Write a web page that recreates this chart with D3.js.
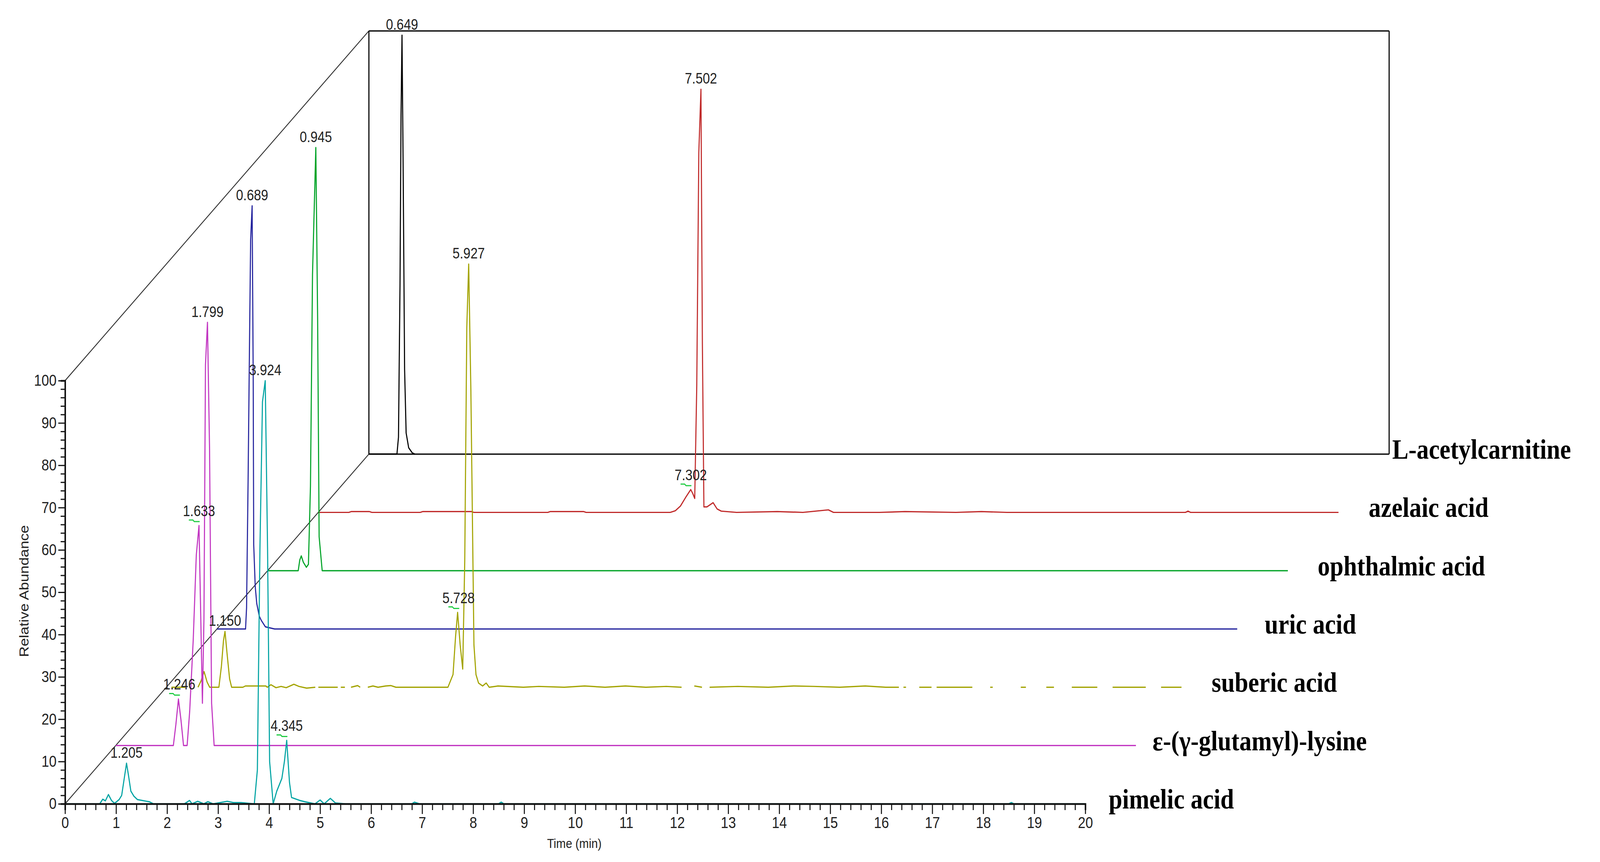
<!DOCTYPE html>
<html><head><meta charset="utf-8">
<script src="https://cdnjs.cloudflare.com/ajax/libs/d3/7.8.5/d3.min.js"></script>
<style>html,body{margin:0;background:#fff;overflow:hidden}svg{display:block}</style></head>
<body><svg id="c" viewBox="0 0 4722 2208" preserveAspectRatio="none" style="width:100vw;height:2208px"></svg>
<script>
// ---- data ----
const seriesNames = ["pimelic acid","ε-(γ-glutamyl)-lysine","suberic acid","uric acid","ophthalmic acid","azelaic acid","L-acetylcarnitine"];
const seriesColors = ["#00A3A3","#C236C2","#A3A300","#24249E","#00A326","#C02A2A","#000000"];
const xTicks = d3.range(0,21,1);
const yTicks = d3.range(0,101,10);

const pimelic = [[0,0],[0.68,0],[0.74,1.1],[0.79,0.7],[0.85,2.2],[0.91,0.8],[0.97,0.1],[1.06,1.0],[1.11,2.0],[1.16,6],[1.205,9.6],[1.24,7],[1.29,3],[1.35,1.8],[1.42,1],[1.6,0.6],[1.65,0.5],[1.73,0],[2.34,0],[2.44,0.8],[2.49,0],[2.6,0.6],[2.72,0],[2.8,0.5],[2.9,0],[3.18,0.6],[3.3,0.3],[3.45,0.3],[3.71,0],[3.77,8],[3.82,60],[3.87,95],[3.924,100],[3.97,60],[4.01,10],[4.08,0],[4.15,3],[4.25,6],[4.30,10],[4.345,15],[4.40,5],[4.44,1.5],[4.6,0.8],[4.7,0.5],[4.9,0],[5.0,0.9],[5.08,0],[5.2,1.3],[5.3,0.2],[5.5,0],[6.8,0],[6.85,0.4],[6.95,0],[8.5,0],[8.55,0.4],[8.6,0],[18.5,0],[18.55,0.3],[18.6,0],[20,0]];
const lysine = [[0,0],[1.13,0],[1.18,5],[1.23,11],[1.28,6],[1.33,0],[1.40,0],[1.45,8],[1.52,25],[1.58,45],[1.633,52],[1.66,35],[1.70,10],[1.73,30],[1.76,90],[1.799,100],[1.84,70],[1.88,10],[1.93,0],[20,0]];
const suberic = [[0.10,0],[0.37,0],null,[0.62,0],[0.68,1.5],[0.74,3.7],[0.80,1.2],[0.85,0],[1.03,0],[1.08,5],[1.12,11],[1.15,13.2],[1.19,8],[1.24,2],[1.28,0],[1.5,0],[1.55,0.3],[1.75,0.3],[1.95,0.3],[1.98,0],[2.05,0.6],[2.15,-0.1],[2.25,0.2],[2.35,-0.1],[2.5,0.7],[2.6,0.2],[2.75,-0.2],[2.92,0],null,[2.98,0],[3.36,0],null,[3.42,0],[3.5,0],null,[3.62,0],[3.75,0.4],[3.8,0],null,[3.95,0],[4.05,0.3],[4.15,0],[4.3,0.3],[4.4,0.4],[4.5,0],[5.52,0],[5.62,3],[5.67,12],[5.71,17.7],[5.76,10],[5.81,4.3],[5.85,30],[5.89,85],[5.927,100],[5.97,70],[6.03,10],[6.07,3],[6.12,1],[6.2,0.3],[6.27,1],[6.33,0],[6.5,0.3],[7.0,0],[7.3,0.2],[7.8,0],[8.2,0.3],[8.6,0],[9.0,0.3],[9.4,0],[9.8,0.2],[10.1,0],null,[10.35,0.3],[10.5,0],null,[10.65,0],[11.2,0.2],[11.8,0],[12.3,0.3],[12.7,0.2],[13.2,0],[13.7,0.3],[14.1,0],[14.36,0],null,[14.45,0],[14.5,0],null,[14.76,0],[15.0,0],null,[15.1,0],[15.8,0],null,[16.15,0],[16.2,0],null,[16.75,0],[16.85,0],null,[17.25,0],[17.4,0],null,[17.75,0],[18.25,0],null,[18.55,0],[19.2,0],null,[19.5,0],[19.9,0]];
const uric = [[0,0],[0.56,0],[0.58,5],[0.61,35],[0.64,70],[0.66,92],[0.689,100],[0.71,60],[0.72,20],[0.75,10],[0.78,6],[0.83,3],[0.87,2],[0.95,0.5],[1.13,0],[20,0]];
const ophthalmic = [[0,0],[0.60,0],[0.63,2.5],[0.66,3.5],[0.70,2],[0.76,0.8],[0.80,1.5],[0.84,20],[0.88,70],[0.945,100],[0.98,60],[1.01,8],[1.07,0],[20,0]];
const azelaic = [[0,0],[0.6,0],[0.65,0.2],[1.0,0.2],[1.05,0],[2.0,0],[2.05,0.2],[3.0,0.2],[3.05,0],[4.5,0],[4.55,0.2],[5.2,0.2],[5.25,0],[6.9,0],[7.0,0.4],[7.1,1.5],[7.2,3.5],[7.302,5.4],[7.34,4.5],[7.38,3.3],[7.42,30],[7.46,85],[7.502,100],[7.53,40],[7.56,1.3],[7.62,1.3],[7.74,2.3],[7.82,0.8],[7.9,0.3],[8.2,0],[9.0,0.2],[9.5,0],[10.0,0.6],[10.1,0],[11.0,0],[11.5,0.2],[12.5,0],[13.0,0.2],[13.5,0],[17.0,0],[17.05,0.3],[17.1,0],[20,0]];
const acetyl = [[0,0],[0.55,0],[0.58,4],[0.61,40],[0.63,80],[0.649,99],[0.67,70],[0.70,20],[0.73,5],[0.78,1.5],[0.85,0.3],[0.9,0]];
const traces = [pimelic,lysine,suberic,uric,ophthalmic,azelaic,acetyl];

const peakLabels = [
  {s:0,t:1.205,v:9.6,txt:"1.205",mark:false},
  {s:0,t:3.924,v:100,txt:"3.924",mark:false},
  {s:0,t:4.345,v:15,txt:"4.345",mark:true},
  {s:1,t:1.246,v:11,txt:"1.246",mark:true},
  {s:1,t:1.633,v:52,txt:"1.633",mark:true},
  {s:1,t:1.799,v:100,txt:"1.799",mark:false},
  {s:2,t:1.150,v:13.2,txt:"1.150",mark:false},
  {s:2,t:5.728,v:17.7,txt:"5.728",mark:true},
  {s:2,t:5.927,v:100,txt:"5.927",mark:false},
  {s:3,t:0.689,v:100,txt:"0.689",mark:false},
  {s:4,t:0.945,v:100,txt:"0.945",mark:false},
  {s:5,t:7.302,v:5.4,txt:"7.302",mark:true},
  {s:5,t:7.502,v:100,txt:"7.502",mark:false},
  {s:6,t:0.649,v:99,txt:"0.649",mark:false}
];
const labelGap = [69,49,74,81,88,89,9];

// ---- layout ----
const X0=192, Y0=2059, DX=149.45, DY=149.3;
const x = d3.scaleLinear().domain([0,20]).range([X0, X0+3011]);
const y = d3.scaleLinear().domain([0,100]).range([Y0, Y0-1084]);
const svg = d3.select("#c");
const px = (t,i)=>x(t)+i*DX, py=(v,i)=>y(v)-i*DY;
const N = 6;

const g = svg.append("g");
const frame=[[[0,100,0],[0,100,N]],[[0,0,0],[0,0,N]],[[0,100,N],[20,100,N]],[[20,100,N],[20,0,N]],[[0,0,N],[20,0,N]],[[0,0,N],[0,100,N]]];
frame.forEach(([a,b],k)=>g.append("line").attr("x1",px(a[0],a[2])).attr("y1",py(a[1],a[2])).attr("x2",px(b[0],b[2])).attr("y2",py(b[1],b[2]))
  .attr("stroke",k<2?"#333":"#111").attr("stroke-width",k<2?2.5:3.5));

for(let i=N;i>=0;i--){
  const line=d3.line().defined(d=>d!==null).x(d=>px(d[0],i)).y(d=>py(d[1],i));
  svg.append("path").attr("d",line(traces[i])).attr("fill","none").attr("stroke",seriesColors[i]).attr("stroke-width",3.2).attr("stroke-linejoin","round");
}

const yAx = svg.append("g").attr("transform",`translate(${X0},0)`)
  .call(d3.axisLeft(y).tickValues(d3.range(0,101,2)).tickSize(13).tickFormat(()=>""));
yAx.selectAll(".tick line").filter(d=>d%10===0).attr("x2",-20);
const yLab = svg.append("g").attr("transform",`translate(${X0},0)`)
  .call(d3.axisLeft(y).tickValues(yTicks).tickSize(0).tickPadding(25));
const xAx = svg.append("g").attr("transform",`translate(0,${Y0})`)
  .call(d3.axisBottom(x).tickValues(d3.range(0,100.5,1).map(d=>d/5)).tickSize(16).tickFormat(()=>""));
xAx.selectAll(".tick line").filter(d=>Math.abs(d-Math.round(d))<1e-6).attr("y2",26);
const xLab = svg.append("g").attr("transform",`translate(0,${Y0})`)
  .call(d3.axisBottom(x).tickValues(xTicks).tickSize(0).tickPadding(40));
[yAx,yLab,xAx,xLab].forEach(a=>{a.select(".domain").attr("stroke","#111").attr("stroke-width",a===yLab||a===xLab?0:4.5);
  a.selectAll(".tick line").attr("stroke","#111").attr("stroke-width",3);
  a.selectAll("text").attr("font-family","Liberation Sans Narrow, Arial, sans-serif").attr("font-size",40).attr("fill","#222");});
xLab.selectAll("text").attr("dy","0.71em").attr("y",34);

svg.append("text").attr("x",1695).attr("y",2172).attr("text-anchor","middle").attr("font-family","Liberation Sans, Arial").attr("font-size",34).attr("fill","#222").text("Time (min)");
svg.append("text").attr("transform","translate(84,1514) rotate(-90)").attr("text-anchor","middle").attr("font-family","Liberation Sans Narrow, Arial").attr("font-size",38).attr("fill","#222").text("Relative Abundance");

peakLabels.forEach(p=>{
  const cx=px(p.t,p.s), cy=py(p.v,p.s);
  svg.append("text").attr("x",cx).attr("y",cy-(p.mark?24:14)).attr("text-anchor","middle")
    .attr("font-family","Liberation Sans, Arial").attr("font-size",38).attr("fill","#222").text(p.txt);
  if(p.mark) svg.append("path").attr("d",`M${cx-30},${cy-14}L${cx-18},${cy-14}L${cx-14},${cy-10}L${cx+2},${cy-10}`).attr("fill","none").attr("stroke","#22cc44").attr("stroke-width",3);
});

seriesNames.forEach((n,i)=>{
  svg.append("text").attr("x",px(20,i)+labelGap[i]).attr("y",py(0,i)+12)
    .attr("font-family","Liberation Serif, Times New Roman, serif").attr("font-weight","bold").attr("font-size",72).attr("fill","#000").text(n);
});
</script></body></html>
